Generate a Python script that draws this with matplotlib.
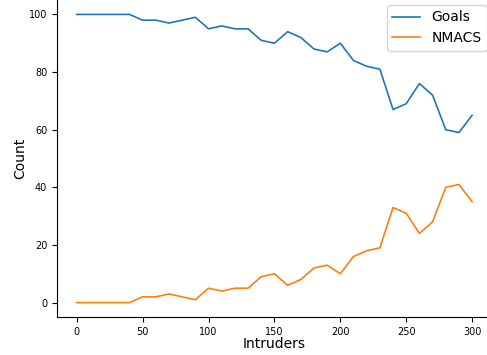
import matplotlib
matplotlib.use("Agg")
import matplotlib.pyplot as plt

# --- data ---
intruders = list(range(0, 301, 10))
goals = [100, 100, 100, 100, 100, 98, 98, 97, 98, 99,
         95, 96, 95, 95, 91, 90, 94, 92, 88, 87,
         90, 84, 82, 81, 67, 69, 76, 72, 60, 59, 65]
nmacs = [0, 0, 0, 0, 0, 2, 2, 3, 2, 1,
         5, 4, 5, 5, 9, 10, 6, 8, 12, 13,
         10, 16, 18, 19, 33, 31, 24, 28, 40, 41, 35]

fig, ax = plt.subplots(figsize=(4.87, 3.55), dpi=100)
ax.plot(intruders, goals, label="Goals", lw=1.2)
ax.plot(intruders, nmacs, label="NMACS", lw=1.2)

ax.set_xlabel("Intruders", fontsize=10, labelpad=0)
ax.set_ylabel("Count", fontsize=10, labelpad=1)
ax.tick_params(labelsize=7)
ax.spines["top"].set_visible(False)
ax.spines["right"].set_visible(False)
ax.legend(loc="upper right", fontsize=10, borderaxespad=0.35)

# axes runs a bit past the right edge, like a tight-cropped original
fig.subplots_adjust(left=0.117, right=1.01, top=1.0, bottom=0.107)
fig.savefig("out.png")
